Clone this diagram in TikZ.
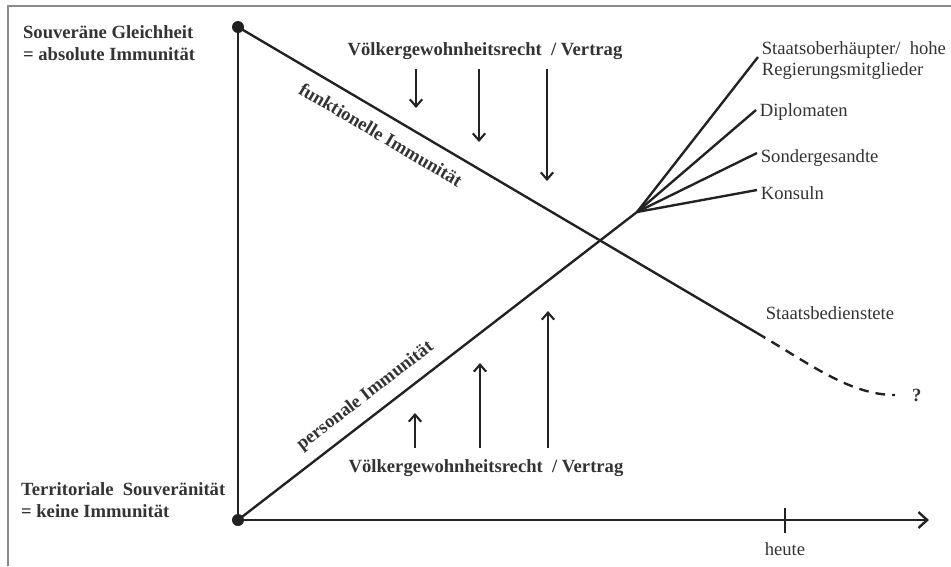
\documentclass[tikz,border=0pt]{standalone}
\usepackage{fontspec}
\setmainfont{Liberation Serif}
\usetikzlibrary{arrows.meta,positioning}

\definecolor{inkgray}{HTML}{333333}
\definecolor{linegray}{HTML}{222222}
\definecolor{framegray}{HTML}{8A8A8A}

\tikzset{
    mainline/.style={draw=linegray, line width=1.35pt},
    pusharrow/.style={draw=linegray, line width=1.2pt, -{Straight Barb[length=4pt,width=7pt]}},
    boldlabel/.style={font=\fontsize{10.6}{12.2}\selectfont\bfseries, text=inkgray, inner sep=1pt},
    grouplabel/.style={font=\fontsize{10.6}{12.4}\selectfont, text=inkgray, align=left, inner sep=2pt},
}

\begin{document}
\begin{tikzpicture}[x=0.02cm, y=-0.02cm]
\useasboundingbox (0,0) rectangle (951,566);
\draw[framegray, line width=0.6pt] (8,566) -- (8,6) -- (951,6);

% axes
\coordinate (top) at (238,27);
\coordinate (origin) at (238,520);
\coordinate (xend) at (929,520);
\coordinate (tickhi) at (785,508);
\coordinate (ticklo) at (785,533);
\draw[mainline] (top) -- (origin);
\draw[mainline, -{Straight Barb[length=5pt,width=9pt]}] (origin) -- (xend);
\draw[mainline] (tickhi) -- (ticklo);
\node[grouplabel] (heute) [below=0.12cm of ticklo] {heute};
\fill[linegray] (top) circle (6);
\fill[linegray] (origin) circle (6);

\node[boldlabel, align=left, anchor=west] (gleich) at (21,43) {Souveräne Gleichheit\\= absolute Immunität};
\node[boldlabel, align=left, anchor=west] (territ) at (19,500) {Territoriale\ \ Souveränität\\= keine Immunität};

% funktionelle Immunitaet
\coordinate (fend) at (757,333);
\coordinate (qend) at (895,395);
\draw[mainline] (top) -- node[pos=0.295, sloped, below=6pt, boldlabel] (funk) {funktionelle Immunität} (fend);
\draw[mainline, dash pattern=on 5.5pt off 4pt] (fend) .. controls (810,364) and (850,395) .. (qend);
\node[grouplabel] (staat) [anchor=west] at (762,313) {Staatsbedienstete};
\node[boldlabel] (frage) [right=0.3cm of qend] {?};

% personale Immunitaet
\coordinate (fork) at (637,212);
\coordinate (sohend) at (758,57);
\coordinate (dipend) at (756,110);
\coordinate (sgend) at (757,153);
\coordinate (konend) at (757,190);
\draw[mainline] (origin) -- node[pos=0.35, sloped, above=5pt, boldlabel] (pers) {personale Immunität} (fork);
\draw[mainline] (fork) -- (sohend);
\draw[mainline] (fork) -- (dipend);
\draw[mainline] (fork) -- (sgend);
\draw[mainline] (fork) -- (konend);
\node[grouplabel, anchor=west] (soh) at ([yshift=-2]sohend) {Staatsoberhäupter/\ \ hohe\\Regierungsmitglieder};
\node[grouplabel, anchor=west] (dip) at ([yshift=-1]dipend) {Diplomaten};
\node[grouplabel, anchor=west] (sg) at ([yshift=-3]sgend) {Sondergesandte};
\node[grouplabel, anchor=west] (kon) at ([yshift=-2]konend) {Konsuln};

% Voelkergewohnheitsrecht
\node[boldlabel] (vrtop) at (485,51) {Völkergewohnheitsrecht\ \ /\ Vertrag};
\node[boldlabel] (vrbot) at (486,468) {Völkergewohnheitsrecht\ \ /\ Vertrag};
\foreach \x/\y in {416/108, 479/142, 547/181}
    \draw[pusharrow] (\x,69) -- (\x,\y);
\foreach \x/\y in {415/413, 480/363, 548/311}
    \draw[pusharrow] (\x,448) -- (\x,\y);
\end{tikzpicture}
\end{document}
